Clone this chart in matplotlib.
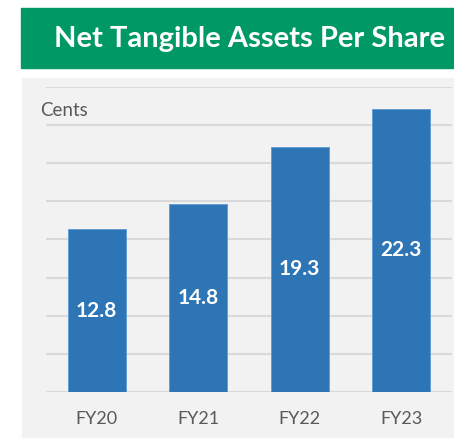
import matplotlib.pyplot as plt
from matplotlib.patches import Rectangle

# Datos
anios = ["FY20", "FY21", "FY22", "FY23"]
valores = [12.8, 14.8, 19.3, 22.3]
ticks_y = [0, 3, 6, 9, 12, 15, 18, 21, 24]

W, H = 454, 438
plt.rcParams['font.family'] = ['Lato', 'DejaVu Sans']

fig = plt.figure(figsize=(W / 100, H / 100), dpi=100)
fig.patch.set_facecolor("white")

# Fondo gris del grafico y banda verde del titulo
fig.patches.append(Rectangle((22 / W, 0), (453 - 22) / W, (438 - 78) / H,
                             transform=fig.transFigure, color="#F2F2F2", zorder=-2))
fig.patches.append(Rectangle((21 / W, (438 - 68) / H), (454 - 21) / W, 60 / H,
                             transform=fig.transFigure, color="#009966", zorder=-2))
fig.text(250 / W, 1 - 39 / H, "Net Tangible Assets Per Share", ha="center", va="center",
         color="white", fontsize=21, fontweight="bold")

ax = fig.add_axes([46 / W, 46 / H, (452 - 46) / W, (392 - 87) / H])
ax.set_zorder(2)
ax.set_facecolor("none")
x = range(len(anios))
ax.bar(x, valores, width=0.575, color="#2E75B6", edgecolor="#5B9BD5",
       linewidth=0.6, zorder=3)
for xi, v in zip(x, valores):
    ax.text(xi, v / 2, f"{v}", ha="center", va="center", color="white",
            fontsize=15, fontweight="bold", zorder=4)

ax.set_xlim(-0.5, 3.5)
ax.set_ylim(0, 24)
ax.set_yticks(ticks_y)
ax.set_yticklabels([])
ax.grid(axis="y", color="#D9D9D9", linewidth=1.5, zorder=0)
ax.tick_params(length=0)
ax.set_xticks(list(x))
ax.set_xticklabels(anios, fontsize=13, color="#595959")
ax.tick_params(axis="x", pad=14)
for s in ax.spines.values():
    s.set_visible(False)

fig.text(40 / W, 1 - 110 / H, "Cents", ha="left", va="center", fontsize=13.5, color="#595959")

fig.savefig("out.png", dpi=100)
